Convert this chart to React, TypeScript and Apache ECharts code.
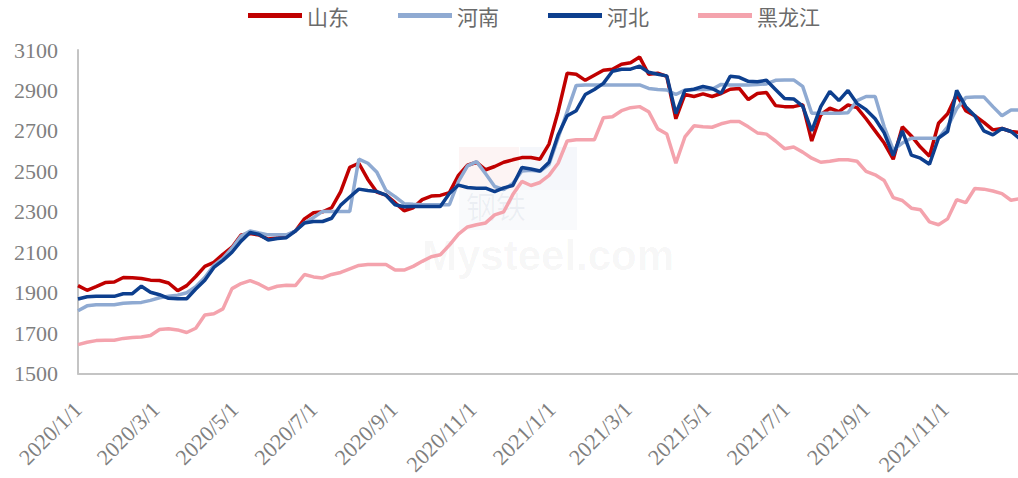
import React, { useEffect, useRef } from "react";
import * as echarts from "echarts";

const DAY = 86400000;
const START = Date.UTC(2020, 0, 1);
const AXIS_END = START + 726.4 * DAY;

const seriesNames = ["山东", "河南", "河北", "黑龙江"];
const seriesColors = ["#C00000", "#8FAAD2", "#0D3F8E", "#F4A3AD"];

const tickLabels = [
  "2020/1/1", "2020/3/1", "2020/5/1", "2020/7/1", "2020/9/1", "2020/11/1",
  "2021/1/1", "2021/3/1", "2021/5/1", "2021/7/1", "2021/9/1", "2021/11/1",
];

const weekCount = 105;
const weekDates: string[] = Array.from({ length: weekCount }, (_, i) => {
  const d = new Date(START + i * 7 * DAY);
  return `${d.getUTCFullYear()}/${d.getUTCMonth() + 1}/${d.getUTCDate()}`;
});

const shandong = [
  1935, 1912, 1930, 1950, 1953, 1975, 1974, 1970, 1962, 1960,
  1948, 1910, 1935, 1980, 2030, 2050, 2090, 2125, 2185, 2192,
  2185, 2165, 2170, 2180, 2205, 2265, 2295, 2300, 2320, 2400,
  2520, 2540, 2460, 2397, 2382, 2345, 2305, 2320, 2360, 2378,
  2381, 2395, 2480, 2530, 2545, 2508, 2524, 2545, 2557, 2568,
  2568, 2560, 2635, 2795, 2985, 2980, 2950, 2975, 3000, 3005,
  3030, 3037, 3065, 2980, 2985, 2970, 2760, 2880, 2870, 2883,
  2870, 2885, 2906, 2910, 2855, 2885, 2890, 2825, 2820, 2820,
  2830, 2650, 2780, 2812, 2795, 2828, 2815, 2760, 2700, 2640,
  2560, 2720, 2675, 2620, 2575, 2738, 2785, 2880, 2800, 2775,
  2742, 2705, 2712, 2697, 2692,
];

const henan = [
  1811, 1835, 1840, 1840, 1840, 1848, 1850, 1852, 1862, 1875,
  1882, 1888, 1900, 1930, 1975, 2035, 2070, 2120, 2180, 2205,
  2195, 2186, 2186, 2186, 2205, 2245, 2272, 2302, 2302, 2302,
  2302, 2560, 2540, 2495, 2405, 2375, 2340, 2337, 2335, 2335,
  2335, 2335, 2450, 2527, 2548, 2488, 2425, 2410, 2440, 2502,
  2505, 2500, 2535, 2665, 2795, 2925, 2927, 2927, 2927, 2927,
  2927, 2927, 2927, 2910, 2905, 2902, 2880, 2902, 2905, 2905,
  2906, 2930, 2927, 2927, 2927, 2930, 2932, 2950, 2952, 2952,
  2920, 2787, 2787, 2787, 2787, 2790, 2850, 2870, 2870, 2720,
  2606, 2640, 2664, 2664, 2664, 2664, 2720, 2810, 2865, 2868,
  2868, 2820, 2775, 2803, 2803,
];

const hebei = [
  1869, 1880, 1882, 1882, 1882, 1895, 1895, 1932, 1902, 1890,
  1872, 1870, 1870, 1918, 1962, 2025, 2060, 2100, 2155, 2198,
  2188, 2160, 2168, 2172, 2205, 2245, 2252, 2252, 2268, 2333,
  2373, 2412, 2405, 2400, 2382, 2335, 2325, 2326, 2326, 2326,
  2326, 2390, 2432, 2420, 2417, 2417, 2400, 2418, 2430, 2519,
  2512, 2502, 2545, 2680, 2775, 2800, 2880, 2905, 2935, 2995,
  3005, 3005, 3020, 2990, 2980, 2972, 2785, 2900, 2906, 2920,
  2910, 2886, 2970, 2965, 2945, 2943, 2950, 2905, 2860, 2858,
  2822, 2700, 2820, 2895, 2850, 2900, 2835, 2805, 2760, 2690,
  2578, 2700, 2580, 2565, 2535, 2665, 2697, 2900, 2820, 2775,
  2700, 2680, 2712, 2697, 2660,
];

const heilongjiang = [
  1643, 1655, 1663, 1665, 1665, 1674, 1678, 1681, 1688, 1718,
  1722, 1716, 1703, 1724, 1790, 1796, 1820, 1920, 1945, 1960,
  1942, 1918, 1932, 1937, 1935, 1990, 1978, 1973, 1990, 2000,
  2018, 2035, 2039, 2039, 2039, 2012, 2012, 2030, 2055, 2078,
  2088, 2135, 2190, 2225, 2236, 2245, 2285, 2300, 2385, 2450,
  2430, 2445, 2480, 2540, 2650, 2656, 2656, 2656, 2765, 2770,
  2800, 2815, 2820, 2795, 2710, 2685, 2540, 2670, 2725, 2720,
  2718, 2735, 2746, 2746, 2720, 2690, 2684, 2650, 2612, 2620,
  2595, 2565, 2545, 2550, 2557, 2557, 2550, 2500, 2483, 2455,
  2370, 2356, 2318, 2310, 2250, 2236, 2265, 2360, 2345, 2415,
  2412, 2403, 2390, 2357, 2365,
];

const seriesValues = [shandong, henan, hebei, heilongjiang];

const parseDate = (s: string) => {
  const [y, m, d] = s.split("/").map(Number);
  return Date.UTC(y, m - 1, d);
};

const tickValues = tickLabels.map(parseDate);

const AXIS_FONT = "'Times New Roman', 'Liberation Serif', serif";

export default function App() {
  const ref = useRef<HTMLDivElement>(null);

  useEffect(() => {
    document.body.style.margin = "0";
    if (!ref.current) return;
    const chart = echarts.init(ref.current, undefined, { renderer: "svg" });
    const option: any = {
      animation: false,
      backgroundColor: "#ffffff",
      legend: {
        data: seriesNames,
        left: 243,
        top: 0,
        icon: "rect",
        itemWidth: 54,
        itemHeight: 5,
        itemGap: 49,
        textStyle: {
          fontFamily: "'Noto Sans CJK SC', sans-serif",
          fontSize: 21,
          color: "#6b6b6b",
        },
      },
      graphic: [
        {
          type: "group",
          silent: true,
          z: -10,
          children: [
            { type: "rect", shape: { x: 459, y: 147, width: 60, height: 43 }, style: { fill: "rgba(220,60,60,0.06)" } },
            { type: "rect", shape: { x: 520, y: 147, width: 57, height: 43 }, style: { fill: "rgba(60,90,170,0.05)" } },
            { type: "rect", shape: { x: 459, y: 190, width: 118, height: 40 }, style: { fill: "rgba(60,90,170,0.03)" } },
            { type: "text", x: 466, y: 190, style: { text: "钢铁", font: "30px 'Noto Sans CJK SC'", verticalAlign: "top", fill: "rgba(40,60,120,0.06)" } },
            { type: "text", x: 422, y: 234, style: { text: "Mysteel.com", font: "bold 42px Arial, 'Liberation Sans'", verticalAlign: "top", fill: "rgba(0,0,0,0.04)" } },
          ],
        },
      ],
      grid: { left: 78, right: 0, top: 50, bottom: 104, containLabel: false },
      xAxis: {
        type: "value",
        min: START,
        max: AXIS_END,
        axisLine: { show: true, lineStyle: { color: "#c4c4c4", width: 2 } },
        axisTick: { show: false },
        splitLine: { show: false },
        axisLabel: {
          customValues: tickValues,
          rotate: 45,
          margin: 32,
          fontFamily: AXIS_FONT,
          fontSize: 22,
          color: "#7f7f7f",
          formatter: (v: number) => {
            const i = tickValues.indexOf(v);
            return i >= 0 ? tickLabels[i] : "";
          },
        },
      },
      yAxis: {
        type: "value",
        min: 1500,
        max: 3100,
        interval: 200,
        axisLine: { show: true, lineStyle: { color: "#c4c4c4", width: 2 } },
        axisTick: { show: false },
        splitLine: { show: false },
        axisLabel: {
          margin: 20,
          fontFamily: AXIS_FONT,
          fontSize: 22,
          color: "#7f7f7f",
          formatter: (v: number) => String(v),
        },
      },
      series: seriesNames.map((name, k) => ({
        name,
        type: "line",
        showSymbol: false,
        symbol: "none",
        clip: true,
        data: weekDates.map((d, i) => [parseDate(d), seriesValues[k][i]]),
        lineStyle: { color: seriesColors[k], width: 3.5 },
        itemStyle: { color: seriesColors[k] },
      })),
    };
    chart.setOption(option);
    return () => chart.dispose();
  }, []);

  return <div ref={ref} style={{ width: 1018, height: 478 }} />;
}
